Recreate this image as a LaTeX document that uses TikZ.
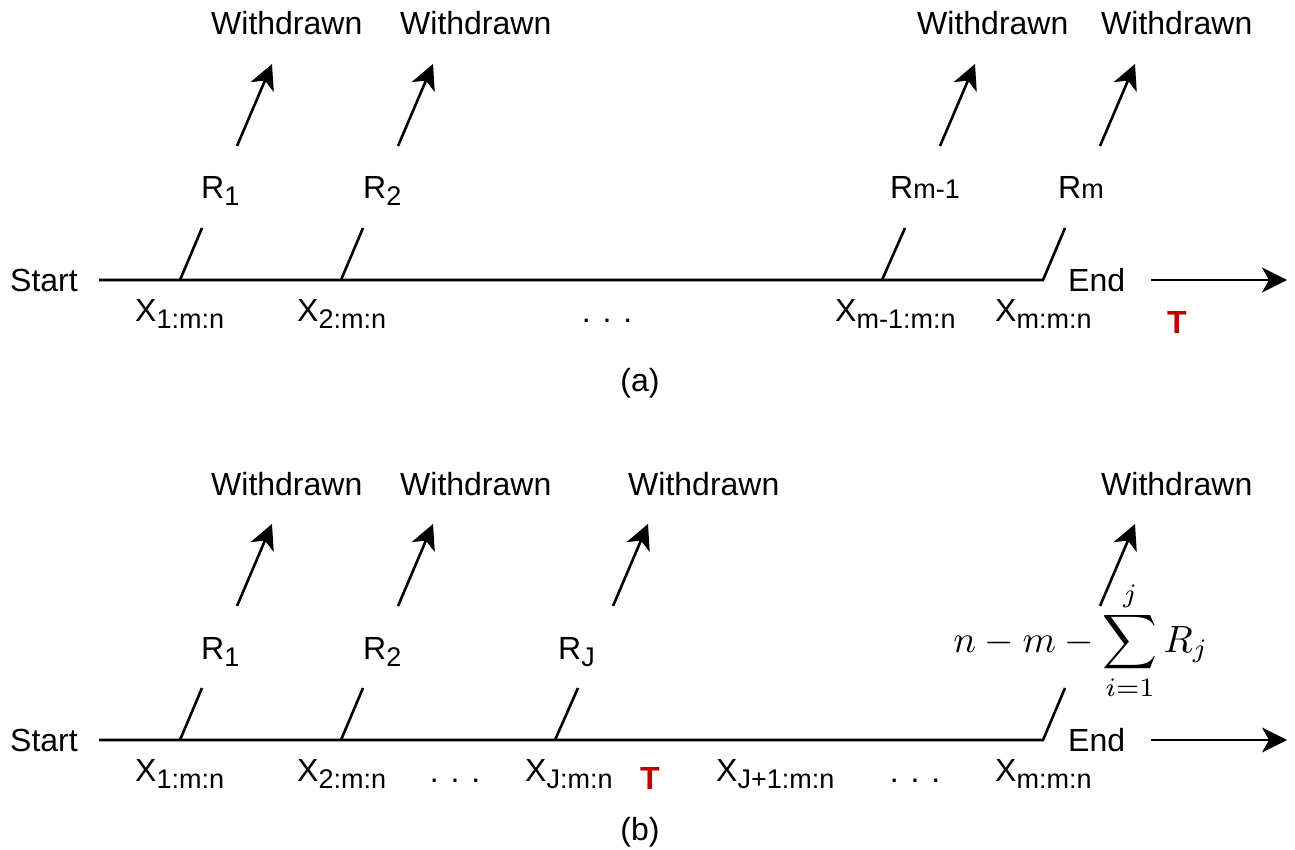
\documentclass[tikz,border=0pt]{standalone}
\usepackage{fontspec}
\setmainfont{Liberation Sans}
\usetikzlibrary{arrows.meta}
\definecolor{tred}{RGB}{192,0,0}
\newcommand{\lsub}[1]{\raisebox{-7pt}{\fontsize{27}{27}\selectfont #1}}
\newcommand{\bsub}[1]{{\fontsize{27}{27}\selectfont #1}}
\begin{document}
\begin{tikzpicture}[x=1pt,y=-1pt,
  font=\fontsize{32}{38}\selectfont,
  lbl/.style={inner sep=0pt,anchor=base west},
  clbl/.style={inner sep=0pt,anchor=base},
  lineth/.style={line width=2.6pt},
  arr/.style={line width=2.6pt,-{Stealth[length=25pt,width=25pt,inset=7pt]}},
  tmark/.style={inner sep=0pt,anchor=base,text=tred,font=\fontsize{32}{38}\selectfont\bfseries}]
\useasboundingbox (0,0) rectangle (1295,850);

% ---------------- panel (a) ----------------
\node[lbl] (startA) at (10,291.5) {Start};
\node[lbl] (endA) at (1068,291.5) {End};
\coordinate (a0) at (99,280);
\coordinate (a1b) at (180,280);  \coordinate (a1t) at (202,228);
\coordinate (a2b) at (341,280);  \coordinate (a2t) at (363,228);
\coordinate (a3b) at (882,280);  \coordinate (a3t) at (905,228);
\coordinate (a4b) at (1043,280); \coordinate (a4t) at (1065,228);
\draw[lineth] (a0) -- (a4b) -- (a4t);
\draw[lineth] (a1b) -- (a1t);
\draw[lineth] (a2b) -- (a2t);
\draw[lineth] (a3b) -- (a3t);
\coordinate (ea0) at (1151,280); \coordinate (ea1) at (1287,280);
\draw[arr] (ea0) -- (ea1);

\coordinate (wa1s) at (237,146); \coordinate (wa1e) at (272,64);
\coordinate (wa2s) at (398,146); \coordinate (wa2e) at (433,64);
\coordinate (wa3s) at (940,146); \coordinate (wa3e) at (975,64);
\coordinate (wa4s) at (1100,146); \coordinate (wa4e) at (1135,64);
\draw[arr] (wa1s) -- (wa1e);
\draw[arr] (wa2s) -- (wa2e);
\draw[arr] (wa3s) -- (wa3e);
\draw[arr] (wa4s) -- (wa4e);

\node[lbl] (wA1) at (211,35) {Withdrawn};
\node[lbl] (wA2) at (400,35) {Withdrawn};
\node[lbl] (wA3) at (917,35) {Withdrawn};
\node[lbl] (wA4) at (1101,35) {Withdrawn};

\node[lbl] (rA1) at (201,199) {R\lsub{1}};
\node[lbl] (rA2) at (363,199) {R\lsub{2}};
\node[lbl] (rA3) at (890,199) {R\bsub{m-1}};
\node[lbl] (rA4) at (1058,199) {R\bsub{m}};

\node[lbl] (xA1) at (135,321) {X\lsub{1:m:n}};
\node[lbl] (xA2) at (297,321) {X\lsub{2:m:n}};
\node[clbl] (dA) at (607,322) {. . .};
\node[lbl] (xA3) at (835,321) {X\lsub{m-1:m:n}};
\node[lbl] (xA4) at (995,321) {X\lsub{m:m:n}};
\node[tmark] (tA) at (1177,333) {T};
\node[clbl] (capA) at (640,391) {(a)};

% ---------------- panel (b) ----------------
\node[lbl] (startB) at (10,751.5) {Start};
\node[lbl] (endB) at (1068,751.5) {End};
\coordinate (b0) at (99,740);
\coordinate (b1b) at (180,740);  \coordinate (b1t) at (202,688);
\coordinate (b2b) at (341,740);  \coordinate (b2t) at (363,688);
\coordinate (b3b) at (555,740);  \coordinate (b3t) at (578,688);
\coordinate (b4b) at (1043,740); \coordinate (b4t) at (1065,688);
\draw[lineth] (b0) -- (b4b) -- (b4t);
\draw[lineth] (b1b) -- (b1t);
\draw[lineth] (b2b) -- (b2t);
\draw[lineth] (b3b) -- (b3t);
\coordinate (eb0) at (1151,740); \coordinate (eb1) at (1287,740);
\draw[arr] (eb0) -- (eb1);

\coordinate (wb1s) at (237,606); \coordinate (wb1e) at (272,524);
\coordinate (wb2s) at (398,606); \coordinate (wb2e) at (433,524);
\coordinate (wb3s) at (613,606); \coordinate (wb3e) at (648,524);
\coordinate (wb4s) at (1100,606); \coordinate (wb4e) at (1135,524);
\draw[arr] (wb1s) -- (wb1e);
\draw[arr] (wb2s) -- (wb2e);
\draw[arr] (wb3s) -- (wb3e);
\draw[arr] (wb4s) -- (wb4e);

\node[lbl] (wB1) at (211,495) {Withdrawn};
\node[lbl] (wB2) at (400,495) {Withdrawn};
\node[lbl] (wB3) at (628,495) {Withdrawn};
\node[lbl] (wB4) at (1101,495) {Withdrawn};

\node[lbl] (rB1) at (201,659) {R\lsub{1}};
\node[lbl] (rB2) at (363,659) {R\lsub{2}};
\node[lbl] (rB3) at (558,659) {R\lsub{J}};
\node[inner sep=0pt] (rB4) at (1081,641)
  {\scalebox{3.8}{\fontsize{10}{12}\selectfont$\displaystyle n-m-\sum_{i=1}^{j}R_j$}};

\node[lbl] (xB1) at (135,781) {X\lsub{1:m:n}};
\node[lbl] (xB2) at (297,781) {X\lsub{2:m:n}};
\node[clbl] (dB1) at (455,782) {. . .};
\node[lbl] (xB3) at (525,781) {X\lsub{J:m:n}};
\node[tmark] (tB) at (650,789) {T};
\node[lbl] (xB4) at (716,781) {X\lsub{J+1:m:n}};
\node[clbl] (dB2) at (915,782) {. . .};
\node[lbl] (xB5) at (995,781) {X\lsub{m:m:n}};
\node[clbl] (capB) at (640,840) {(b)};
\end{tikzpicture}
\end{document}
